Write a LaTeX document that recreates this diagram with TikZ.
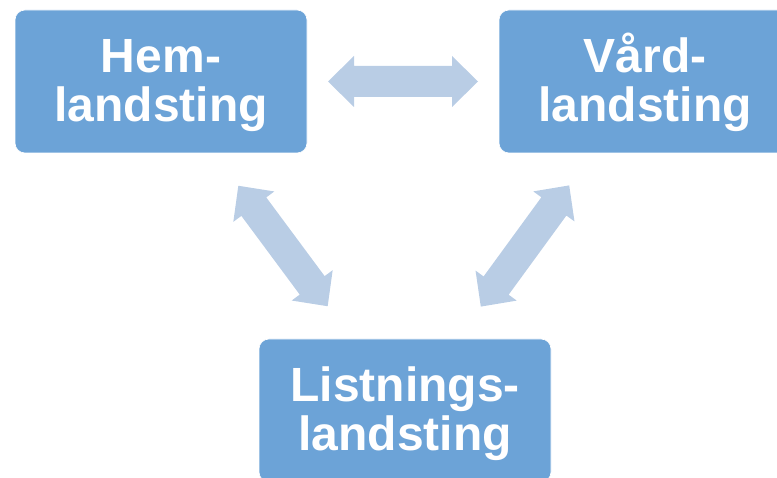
\documentclass[tikz,border=0pt]{standalone}
\usepackage{fontspec}
\setmainfont{Liberation Sans}
\usetikzlibrary{calc}
\definecolor{boxblue}{RGB}{108,163,215}
\definecolor{arrowblue}{RGB}{185,205,229}
\tikzset{
  box/.style={draw=white, line width=0.6pt, fill=boxblue, rounded corners=10pt,
    minimum width=292pt, minimum height=143pt, inner sep=0pt},
  lbl/.style={text=white, align=center, inner sep=0pt, anchor=base,
    font=\fontsize{48}{49}\selectfont\bfseries},
  arrowfill/.style={fill=arrowblue}
}
\newcommand\blockarrow[2]{%
  \path[arrowfill] let \p1=(#1.center), \p2=(#2.center),
    \n1={atan2(\y2-\y1,\x2-\x1)}, \p3=($(\p1)!0.5!(\p2)$) in
    [shift={(\p3)}, rotate=\n1]
    (-75,0) -- (-49,25.5) -- (-49,15.5) -- (49,15.5) -- (49,25.5) -- (75,0)
    -- (49,-25.5) -- (49,-15.5) -- (-49,-15.5) -- (-49,-25.5) -- cycle;
}
\begin{document}
\begin{tikzpicture}[x=1pt, y=-1pt]
  \useasboundingbox (0,0) rectangle (777,478);
  \node[box] (hem) at (161,81.5) {};
  \node[box] (vard) at (645,81.5) {};
  \node[box] (list) at (405,410.5) {};
  \node[lbl] (hemt) at (161,121.5) {Hem-\\landsting};
  \node[lbl] (vardt) at (645,121.5) {Vård-\\landsting};
  \node[lbl] (listt) at (405,450) {Listnings-\\landsting};
  \blockarrow{hem}{vard}
  \blockarrow{hem}{list}
  \blockarrow{vard}{list}
\end{tikzpicture}
\end{document}
